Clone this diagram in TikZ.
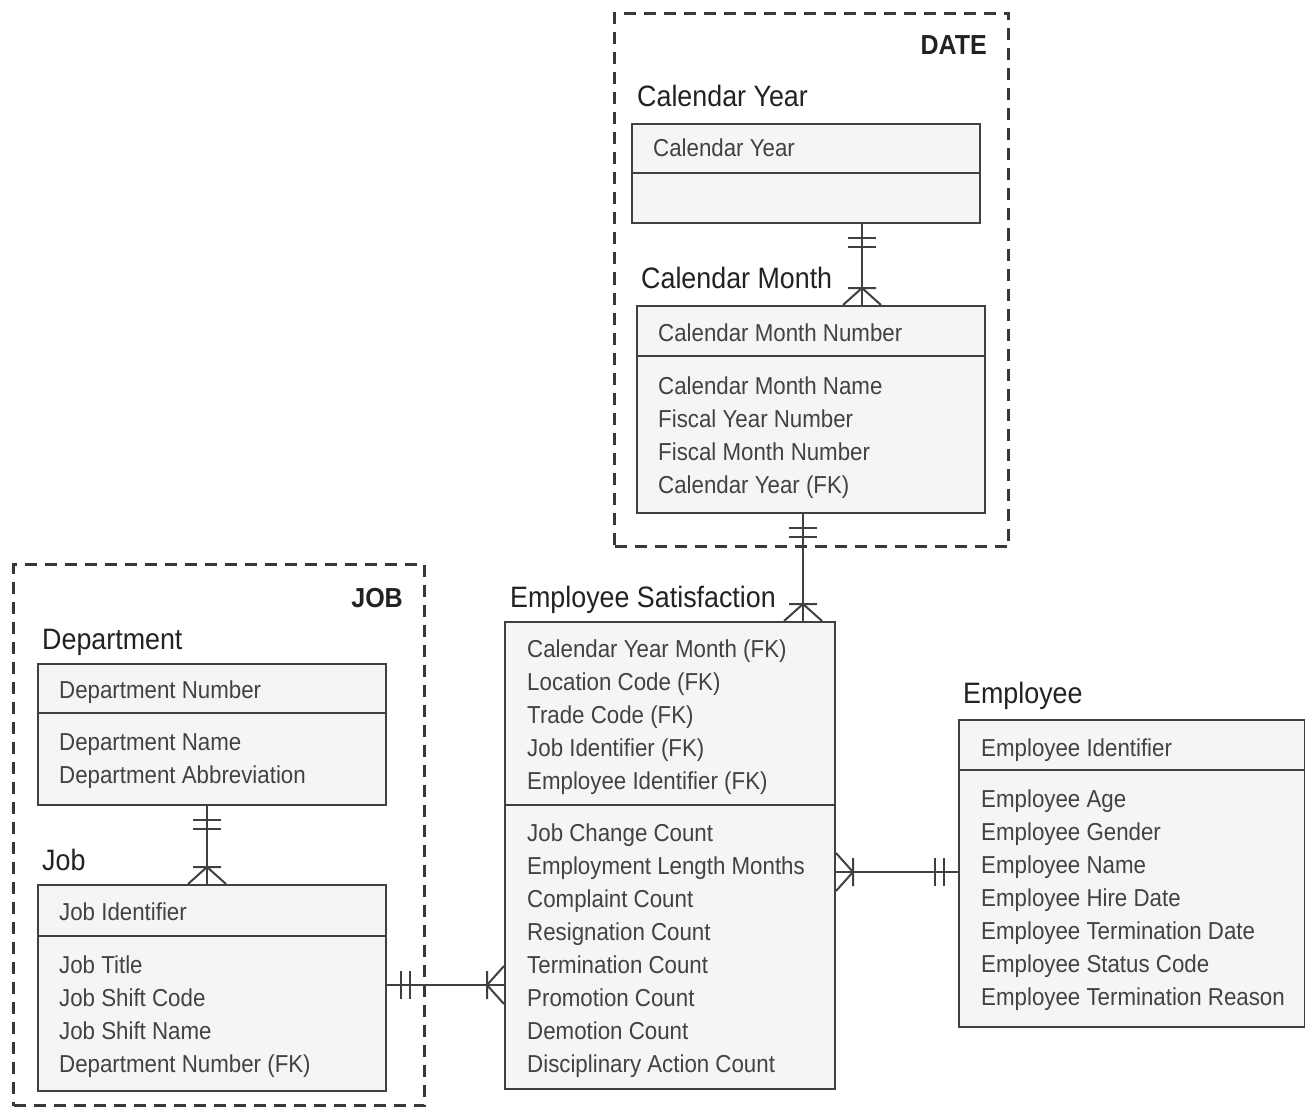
\documentclass[tikz,border=0pt]{standalone}
\usepackage{fontspec}
\setmainfont{Liberation Sans}
\newfontfamily\erfont{Liberation Sans}[FakeStretch=0.91]
\definecolor{boxfill}{HTML}{F5F5F5}
\definecolor{linec}{HTML}{404040}
\definecolor{attrc}{HTML}{424242}
\definecolor{titlec}{HTML}{222222}
\definecolor{grpc}{HTML}{383838}
\tikzset{
  ent/.style={draw=linec, line width=2pt, fill=boxfill, rectangle, anchor=north west, inner sep=0pt},
  grpbox/.style={draw=grpc, line width=3pt, dash pattern=on 12pt off 8pt, rectangle, anchor=north west, inner sep=0pt},
  attr/.style={anchor=base west, inner sep=0pt, text=attrc, font=\erfont\fontsize{24.5}{30}\selectfont},
  etitle/.style={anchor=base west, inner sep=0pt, text=titlec, font=\erfont\fontsize{29.5}{34}\selectfont},
  grplabel/.style={anchor=base east, inner sep=0pt, text=titlec, font=\erfont\bfseries\fontsize{27.5}{32}\selectfont},
  rel/.style={draw=linec, line width=2pt},
  oneone/.pic={\draw[rel] (14,-14) -- (14,14) (23,-14) -- (23,14);},
  crow/.pic={\draw[rel] (0,-19) -- (17,0) -- (0,19) (17,-14) -- (17,14);},
}
\begin{document}
\begin{tikzpicture}[x=1pt,y=-1pt]
\useasboundingbox (0,0) rectangle (1305,1107);

% groups
\node[grpbox, minimum width=394pt, minimum height=533pt] (dategrp) at (613,12) {};
\node[grplabel] (datelbl) at (987,55) {DATE};
\node[grpbox, minimum width=411pt, minimum height=541pt] (jobgrp) at (12,563) {};
\node[grplabel] (joblbl) at (403,607) {JOB};

% Calendar Year
\node[etitle] (cyt) at (637,107) {Calendar Year};
\node[ent, minimum width=348pt, minimum height=99pt] (cy) at (631,123) {};
\draw[rel] (631,173) -- (979,173);
\node[attr] (cyk) at (653,157) {Calendar Year};

% Calendar Month
\node[etitle] (cmt) at (641,288) {Calendar Month};
\node[ent, minimum width=348pt, minimum height=207pt] (cm) at (636,305) {};
\draw[rel] (636,356) -- (984,356);
\node[attr] (cmk) at (658,341) {Calendar Month Number};
\foreach \t [count=\i from 0] in {Calendar Month Name, Fiscal Year Number, Fiscal Month Number, Calendar Year (FK)}
  \node[attr] (cma\i) at (658,394+33*\i) {\t};

% Department
\node[etitle] (dt) at (42,649) {Department};
\node[ent, minimum width=348pt, minimum height=141pt] (dept) at (37,663) {};
\draw[rel] (37,713) -- (385,713);
\node[attr] (dk) at (59,698) {Department Number};
\foreach \t [count=\i from 0] in {Department Name, Department Abbreviation}
  \node[attr] (da\i) at (59,750+33*\i) {\t};

% Job
\node[etitle] (jt) at (42,870) {Job};
\node[ent, minimum width=348pt, minimum height=206pt] (job) at (37,884) {};
\draw[rel] (37,936) -- (385,936);
\node[attr] (jk) at (59,920) {Job Identifier};
\foreach \t [count=\i from 0] in {Job Title, Job Shift Code, Job Shift Name, Department Number (FK)}
  \node[attr] (ja\i) at (59,973+33*\i) {\t};

% Employee Satisfaction
\node[etitle] (est) at (510,607) {Employee Satisfaction};
\node[ent, minimum width=330pt, minimum height=467pt] (es) at (504,621) {};
\draw[rel] (504,805) -- (834,805);
\foreach \t [count=\i from 0] in {Calendar Year Month (FK), Location Code (FK), Trade Code (FK), Job Identifier (FK), Employee Identifier (FK)}
  \node[attr] (esk\i) at (527,657+33*\i) {\t};
\foreach \t [count=\i from 0] in {Job Change Count, Employment Length Months, Complaint Count, Resignation Count, Termination Count, Promotion Count, Demotion Count, Disciplinary Action Count}
  \node[attr] (esa\i) at (527,841+33*\i) {\t};

% Employee
\node[etitle] (empt) at (963,703) {Employee};
\node[ent, minimum width=346pt, minimum height=307pt] (emp) at (958,719) {};
\draw[rel] (958,770) -- (1304,770);
\node[attr] (empk) at (981,756) {Employee Identifier};
\foreach \t [count=\i from 0] in {Employee Age, Employee Gender, Employee Name, Employee Hire Date, Employee Termination Date, Employee Status Code, Employee Termination Reason}
  \node[attr] (empa\i) at (981,807+33*\i) {\t};

% connectors
\coordinate (v1) at (862,0);
\coordinate (v2) at (803,0);
\coordinate (v3) at (207,0);
\coordinate (h4) at (0,985);
\coordinate (h5) at (0,872);

\draw[rel] (cy.south -| v1) -- (cm.north -| v1);
\pic[rotate=-90] at (cy.south -| v1) {oneone};
\pic[rotate=90] at (cm.north -| v1) {crow};

\draw[rel] (cm.south -| v2) -- (es.north -| v2);
\pic[rotate=-90] at (cm.south -| v2) {oneone};
\pic[rotate=90] at (es.north -| v2) {crow};

\draw[rel] (dept.south -| v3) -- (job.north -| v3);
\pic[rotate=-90] at (dept.south -| v3) {oneone};
\pic[rotate=90] at (job.north -| v3) {crow};

\draw[rel] (job.east |- h4) -- (es.west |- h4);
\pic at (job.east |- h4) {oneone};
\pic[rotate=180] at (es.west |- h4) {crow};

\draw[rel] (es.east |- h5) -- (emp.west |- h5);
\pic at (es.east |- h5) {crow};
\pic[rotate=180] at (emp.west |- h5) {oneone};
\end{tikzpicture}
\end{document}
